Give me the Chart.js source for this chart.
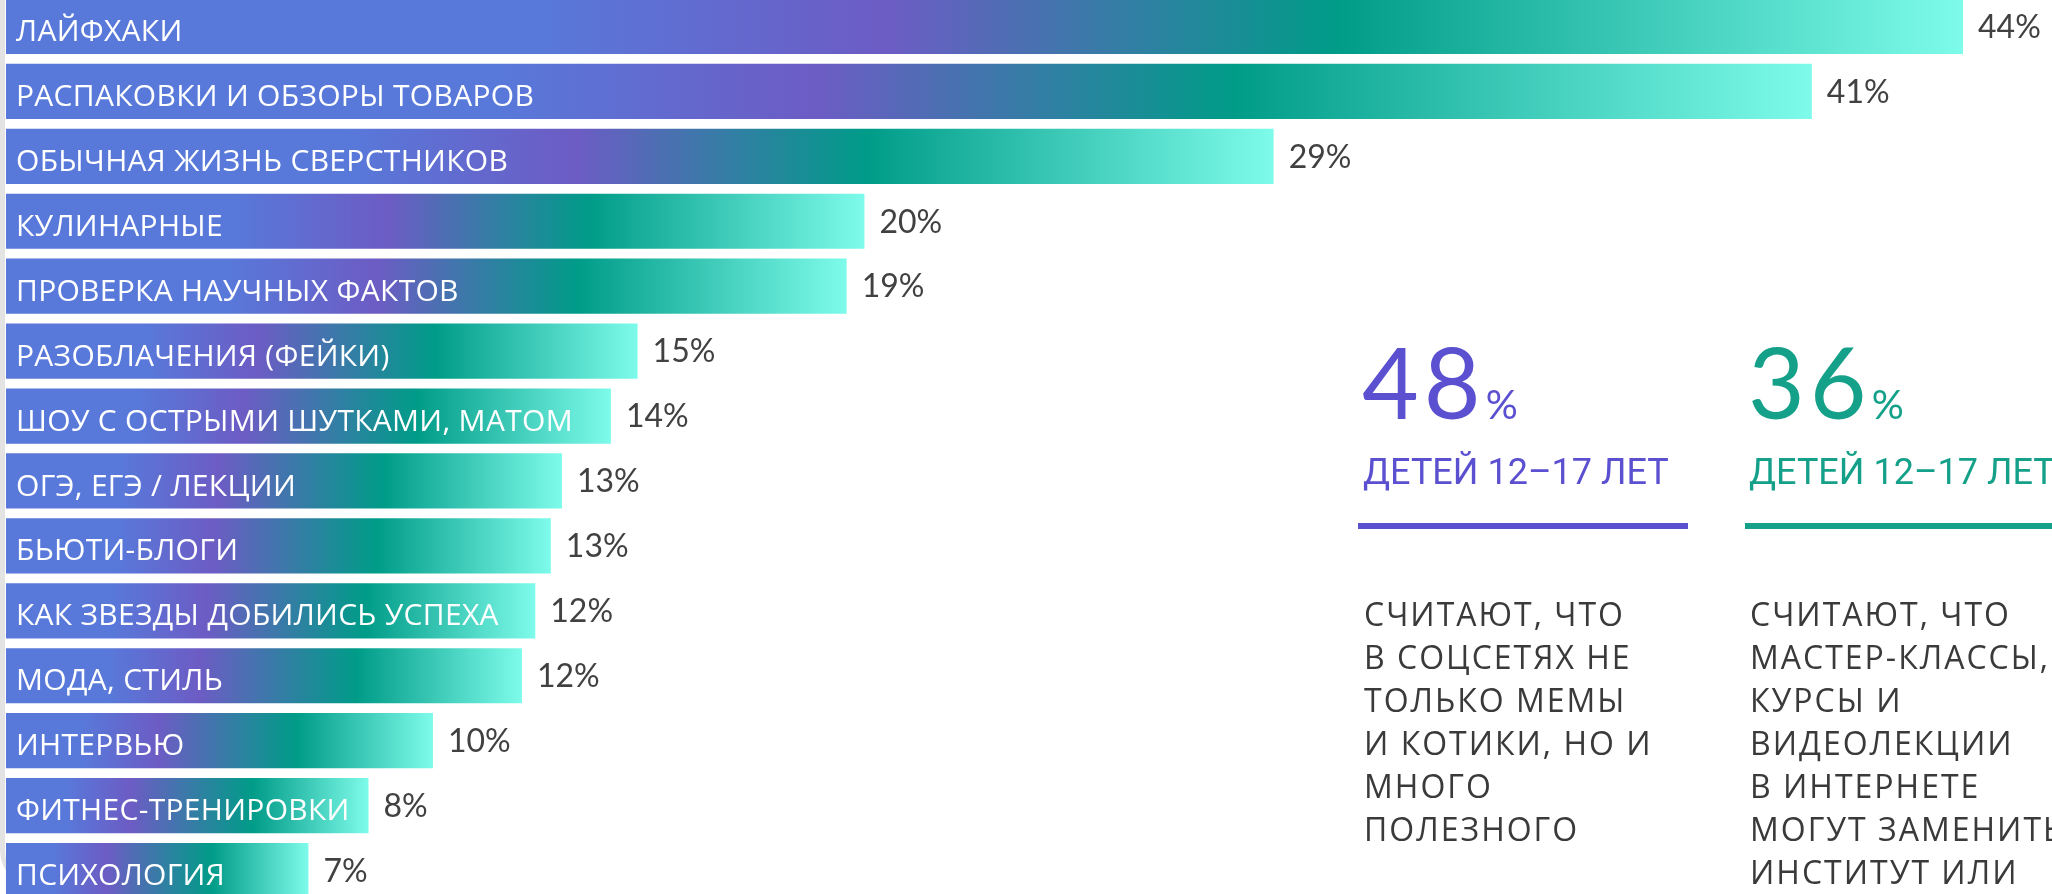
<!DOCTYPE html>
<html lang="ru">
<head>
<meta charset="utf-8">
<title>Контент для детей</title>
<script src="https://cdn.jsdelivr.net/npm/chart.js@4.4.1/dist/chart.umd.min.js"></script>
<style>
    html, body {
        margin: 0;
        padding: 0;
        width: 2052px;
        height: 894px;
        overflow: hidden;
        background: #ffffff;
    }
    #edge {
        position: absolute;
        left: 0;
        top: -60px;
        width: 40px;
        height: 950px;
        border-left: 5px solid #e3e3e3;
        border-bottom-left-radius: 40px;
        box-sizing: border-box;
    }
    #wrap {
        position: absolute;
        left: 0;
        top: -6px;
        width: 2052px;
        height: 909px;
    }
    .big {
        position: absolute;
        font-family: Lato, sans-serif;
        font-size: 98px;
        line-height: 98px;
        letter-spacing: 5px;
        white-space: nowrap;
    }
    .big span {
        font-size: 40px;
        letter-spacing: 0;
    }
    .head {
        position: absolute;
        font-family: Roboto, sans-serif;
        font-size: 36px;
        line-height: 36px;
        white-space: nowrap;
    }
    .rule {
        position: absolute;
        height: 6px;
    }
    .body {
        position: absolute;
        font-family: "Open Sans", sans-serif;
        font-size: 32px;
        line-height: 43px;
        letter-spacing: 2px;
        color: #3a3a3a;
        white-space: nowrap;
    }
</style>
</head>
<body>
<div id="edge"></div>
<div id="wrap"><canvas id="topicsChart"></canvas></div>

<!-- Правая колонка с выводами -->
<div class="big" style="left:1362px; top:332px; color:#5b50d0;">48<span>%</span></div>
<div class="head" style="left:1363px; top:454px; color:#5b50d0;">ДЕТЕЙ 12–17 ЛЕТ</div>
<div class="rule" style="left:1358px; top:523px; width:330px; background:#5b50d0;"></div>
<div class="body" style="left:1364px; top:592px;">СЧИТАЮТ, ЧТО<br>В СОЦСЕТЯХ НЕ<br>ТОЛЬКО МЕМЫ<br>И КОТИКИ, НО И<br>МНОГО<br>ПОЛЕЗНОГО</div>

<div class="big" style="left:1748px; top:332px; color:#15a189;">36<span>%</span></div>
<div class="head" style="left:1749px; top:454px; color:#15a189;">ДЕТЕЙ 12–17 ЛЕТ</div>
<div class="rule" style="left:1745px; top:523px; width:320px; background:#15a189;"></div>
<div class="body" style="left:1750px; top:592px;">СЧИТАЮТ, ЧТО<br>МАСТЕР-КЛАССЫ,<br>КУРСЫ И<br>ВИДЕОЛЕКЦИИ<br>В ИНТЕРНЕТЕ<br>МОГУТ ЗАМЕНИТЬ<br>ИНСТИТУТ ИЛИ</div>

<script>
// Темы видео
const topics = [
    'ЛАЙФХАКИ',
    'РАСПАКОВКИ И ОБЗОРЫ ТОВАРОВ',
    'ОБЫЧНАЯ ЖИЗНЬ СВЕРСТНИКОВ',
    'КУЛИНАРНЫЕ',
    'ПРОВЕРКА НАУЧНЫХ ФАКТОВ',
    'РАЗОБЛАЧЕНИЯ (ФЕЙКИ)',
    'ШОУ С ОСТРЫМИ ШУТКАМИ, МАТОМ',
    'ОГЭ, ЕГЭ / ЛЕКЦИИ',
    'БЬЮТИ-БЛОГИ',
    'КАК ЗВЕЗДЫ ДОБИЛИСЬ УСПЕХА',
    'МОДА, СТИЛЬ',
    'ИНТЕРВЬЮ',
    'ФИТНЕС-ТРЕНИРОВКИ',
    'ПСИХОЛОГИЯ'
];

// Длины столбцов (оценка по картинке, %)
const shares = [44, 40.6, 28.5, 19.3, 18.9, 14.2, 13.6, 12.5, 12.25, 11.9, 11.6, 9.6, 8.15, 6.8];

// Подписи значений
const shareLabels = ['44%', '41%', '29%', '20%', '19%', '15%', '14%', '13%', '13%', '12%', '12%', '10%', '8%', '7%'];

// Шкала
const axisMax = 46;

// Цвета градиента
const gradBlue = '#5879da';
const gradPurple = '#6c5cc4';
const gradTeal = '#009c88';
const gradLight = '#7efbea';

// Градиент для каждого столбца по его длине
function barGradient(context) {
    const chart = context.chart;
    const xScale = chart.scales.x;
    if (!chart.chartArea || !xScale || !context.parsed) return gradBlue;
    const x0 = xScale.getPixelForValue(0);
    const x1 = xScale.getPixelForValue(context.parsed.x);
    if (!isFinite(x0) || !isFinite(x1) || x1 <= x0) return gradBlue;
    const ratio = context.parsed.x / Math.max(...shares);
    const p = Math.min(0.45, 0.27 + 0.4 * ratio);
    const b = Math.max(0, p - 0.18);
    const g = chart.ctx.createLinearGradient(x0, 0, x1, 0);
    g.addColorStop(0, gradBlue);
    g.addColorStop(b, gradBlue);
    g.addColorStop(p, gradPurple);
    g.addColorStop(0.68, gradTeal);
    g.addColorStop(1, gradLight);
    return g;
}

// Подписи внутри и справа от столбцов
const barLabels = {
    id: 'barLabels',
    afterDatasetsDraw(chart) {
        const ctx = chart.ctx;
        const meta = chart.getDatasetMeta(0);
        ctx.save();
        meta.data.forEach((bar, i) => {
            ctx.textBaseline = 'middle';
            ctx.textAlign = 'left';

            ctx.fillStyle = '#ffffff';
            ctx.font = '30px "Open Sans"';
            ctx.letterSpacing = '0.3px';
            ctx.fillText(topics[i], bar.base + 10, bar.y + 6);

            ctx.fillStyle = '#414141';
            ctx.font = '32px Lato';
            ctx.letterSpacing = '0px';
            ctx.fillText(shareLabels[i], bar.x + 15, bar.y + 1);
        });
        ctx.restore();
    }
};

const chart = new Chart(document.getElementById('topicsChart'), {
    type: 'bar',
    data: {
        labels: topics,
        datasets: [{
            data: shares,
            backgroundColor: barGradient,
            borderWidth: 0,
            barPercentage: 0.85,
            categoryPercentage: 1
        }]
    },
    options: {
        indexAxis: 'y',
        responsive: true,
        maintainAspectRatio: false,
        animation: false,
        layout: {
            padding: { left: 6, right: 0, top: 0, bottom: 0 }
        },
        scales: {
            x: {
                display: false,
                min: 0,
                max: axisMax
            },
            y: {
                display: false
            }
        },
        plugins: {
            legend: { display: false },
            tooltip: { enabled: false }
        }
    },
    plugins: [barLabels]
});
</script>
</body>
</html>
